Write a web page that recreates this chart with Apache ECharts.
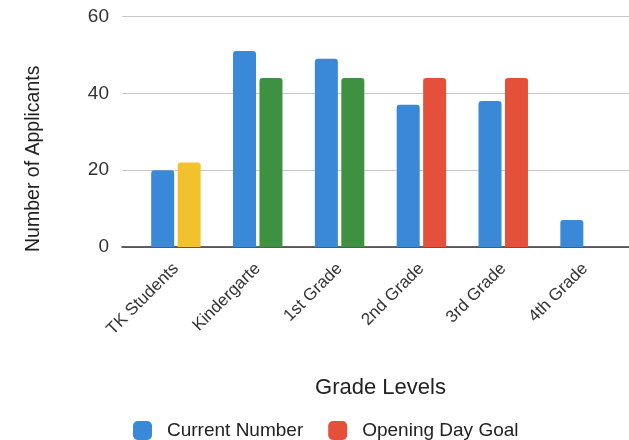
<!DOCTYPE html>
<html>
<head>
<meta charset="utf-8">
<script src="https://cdn.jsdelivr.net/npm/echarts@6/dist/echarts.min.js"></script>
<style>
  html, body { margin: 0; padding: 0; background: #fff; }
  #chart { width: 629px; height: 440px; }
</style>
</head>
<body>
<div id="chart"></div>
<script>
// grade levels on the x axis
const categories = ['TK Students', 'Kindergarte', '1st Grade', '2nd Grade', '3rd Grade', '4th Grade'];
const currentNumber = [20, 51, 49, 37, 38, 7];
const openingDayGoal = [22, 44, 44, 44, 44, null];
// each goal bar has its own colour in the original
const goalColors = ['#f2c12e', '#3d9140', '#3d9140', '#e5503a', '#e5503a', '#e5503a'];
const yTicks = [0, 20, 40, 60];

const font = 'Liberation Sans, Arial, sans-serif';
const myChart = echarts.init(document.getElementById('chart'));

const option = {
  backgroundColor: '#fff',
  textStyle: { fontFamily: font },
  legend: {
    bottom: -5,
    left: 128,
    itemWidth: 19,
    itemHeight: 19,
    itemGap: 25,
    icon: 'roundRect',
    textStyle: { fontSize: 19, color: '#222', fontFamily: font, padding: [0, 0, 0, 10] },
    data: ['Current Number', 'Opening Day Goal']
  },
  grid: [
    { left: 122, right: 0, top: 16.5, bottom: 193 }, // gridlines + y axis
    { left: 135, right: 3, top: 16.5, bottom: 193 }  // bars
  ],
  xAxis: [
    {
      gridIndex: 0,
      type: 'value',
      min: 0,
      max: 1,
      axisLine: { show: true, lineStyle: { color: '#333', width: 1.5 } },
      axisTick: { show: false },
      axisLabel: { show: false },
      splitLine: { show: false }
    },
    {
      gridIndex: 1,
      type: 'category',
      data: categories,
      axisLine: { show: false },
      axisTick: { show: false },
      axisLabel: {
        rotate: 45,
        interval: 0,
        fontSize: 17,
        color: '#333',
        fontFamily: font,
        margin: 19
      },
      name: 'Grade Levels',
      nameLocation: 'middle',
      nameGap: 130,
      nameTextStyle: { fontSize: 22, color: '#222', fontFamily: font }
    }
  ],
  yAxis: [
    {
      gridIndex: 0,
      type: 'value',
      min: yTicks[0],
      max: yTicks[yTicks.length - 1],
      interval: 20,
      axisLine: { show: false },
      axisTick: { show: false },
      axisLabel: { fontSize: 19, color: '#333', margin: 13, fontFamily: font },
      splitLine: { lineStyle: { color: '#c8c8c8', width: 1 } },
      name: 'Number of Applicants',
      nameLocation: 'middle',
      nameGap: 78,
      nameTextStyle: { fontSize: 19.5, color: '#222', fontFamily: font, padding: [0, 54, 0, 0] }
    },
    {
      gridIndex: 1,
      type: 'value',
      min: yTicks[0],
      max: yTicks[yTicks.length - 1],
      show: false
    }
  ],
  series: [
    {
      name: 'Current Number',
      type: 'bar',
      xAxisIndex: 1,
      yAxisIndex: 1,
      data: currentNumber,
      barWidth: 23,
      barGap: '15%',
      itemStyle: { color: '#3a88d8', borderRadius: [3, 3, 0, 0] }
    },
    {
      name: 'Opening Day Goal',
      type: 'bar',
      xAxisIndex: 1,
      yAxisIndex: 1,
      data: openingDayGoal.map((v, i) => ({ value: v, itemStyle: { color: goalColors[i] } })),
      barWidth: 23,
      itemStyle: { color: '#e5503a', borderRadius: [3, 3, 0, 0] }
    }
  ]
};

myChart.setOption(option);
</script>
</body>
</html>
